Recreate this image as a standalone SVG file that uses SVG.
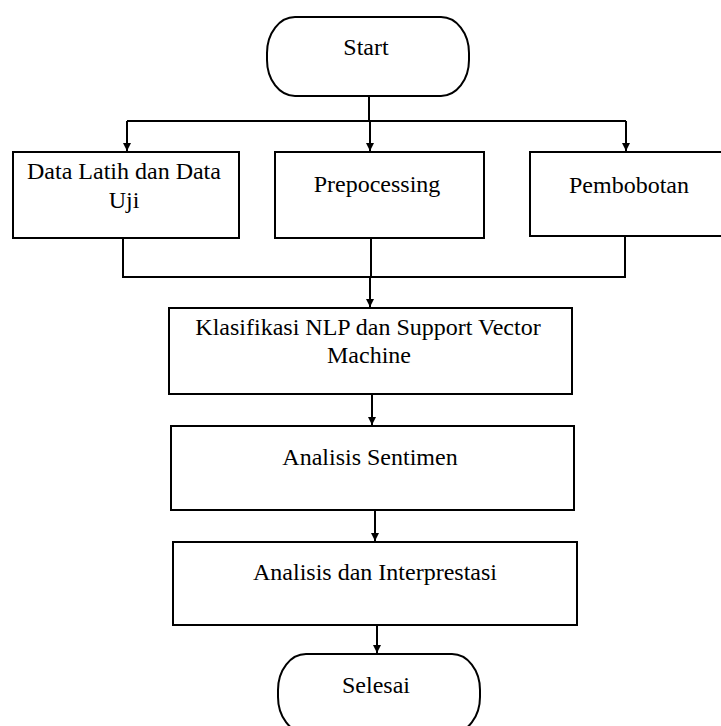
<svg xmlns="http://www.w3.org/2000/svg" width="721" height="726" viewBox="0 0 721 726">
<defs>
<style>
.n{fill:#fff;stroke:#000;stroke-width:2}
.t{font-family:"Liberation Serif","Times New Roman",serif;font-size:24px;fill:#000;text-anchor:middle}
.c{fill:none;stroke:#000;stroke-width:2}
</style>
<marker id="ah" markerWidth="10" markerHeight="10" refX="9" refY="5" orient="auto" markerUnits="userSpaceOnUse">
<path d="M1,1 L9,5 L1,9 Z" fill="#000"/>
</marker>
</defs>
<rect width="721" height="726" fill="#fff"/>
<g id="connectors">
<path class="c" d="M369,96 V121 M127,121 H626"/>
<path class="c" d="M127,121 V151" marker-end="url(#ah)"/>
<path class="c" d="M370,121 V151" marker-end="url(#ah)"/>
<path class="c" d="M626,121 V151" marker-end="url(#ah)"/>
<path class="c" d="M123,238 V277 H625 V236 M371,238 V277"/>
<path class="c" d="M370,277 V307" marker-end="url(#ah)"/>
<path class="c" d="M372,394 V425" marker-end="url(#ah)"/>
<path class="c" d="M375,510 V541" marker-end="url(#ah)"/>
<path class="c" d="M377,625 V653" marker-end="url(#ah)"/>
</g>
<g id="start">
<rect class="n" x="267" y="17" width="202" height="79" rx="28" ry="36"/>
<text class="t" x="366" y="55">Start</text>
</g>
<g id="data">
<rect class="n" x="13" y="152" width="226" height="86"/>
<text class="t" x="124" y="179">Data Latih dan Data</text>
<text class="t" x="124" y="208">Uji</text>
</g>
<g id="prepocessing">
<rect class="n" x="275" y="152" width="209" height="86"/>
<text class="t" x="377" y="192">Prepocessing</text>
</g>
<g id="pembobotan">
<rect class="n" x="530" y="152" width="198" height="84"/>
<text class="t" x="629" y="193">Pembobotan</text>
</g>
<g id="klasifikasi">
<rect class="n" x="169" y="308" width="403" height="86"/>
<text class="t" x="368" y="335">Klasifikasi NLP dan Support Vector</text>
<text class="t" x="369" y="363">Machine</text>
</g>
<g id="sentimen">
<rect class="n" x="171" y="426" width="403" height="84"/>
<text class="t" x="370" y="465">Analisis Sentimen</text>
</g>
<g id="interpretasi">
<rect class="n" x="173" y="542" width="404" height="83"/>
<text class="t" x="375" y="580">Analisis dan Interprestasi</text>
</g>
<g id="selesai">
<rect class="n" x="278" y="654" width="202" height="79" rx="28" ry="36"/>
<text class="t" x="376" y="693">Selesai</text>
</g>
</svg>
